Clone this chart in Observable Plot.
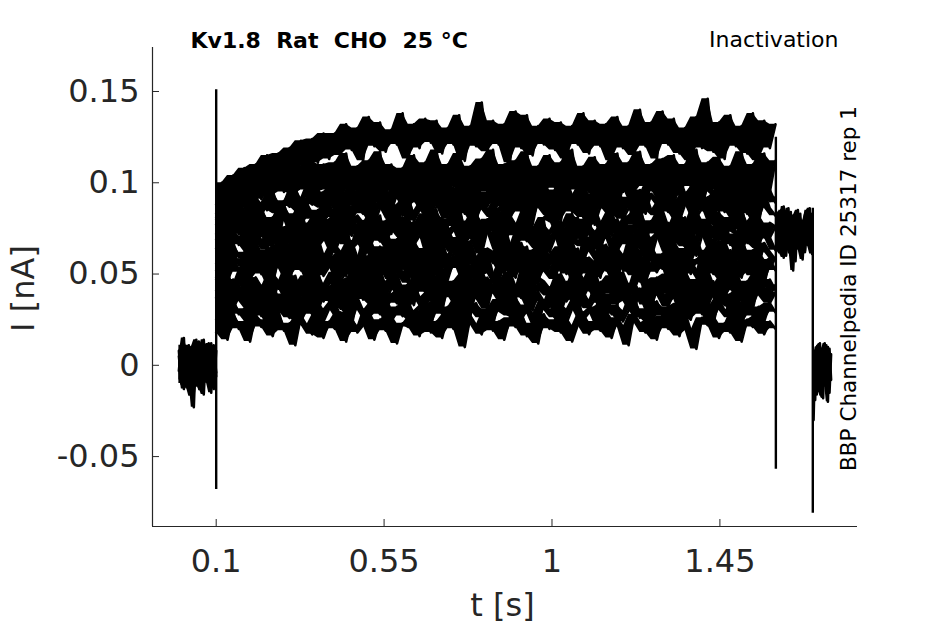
<!DOCTYPE html>
<html><head><meta charset="utf-8">
<script src="https://cdn.jsdelivr.net/npm/d3@7"></script>
<script src="https://cdn.jsdelivr.net/npm/@observablehq/plot@0.6"></script>
<style>
html,body{margin:0;padding:0;background:#fff;}
svg text{white-space:pre;}
</style></head><body><div id="chart"></div>
<script>
// ---- labels ----
const title = "Kv1.8  Rat  CHO  25 °C";
const protocolLabel = "Inactivation";
const sourceLabel = "BBP Channelpedia ID 25317 rep 1";
const xLabel = "t [s]";
const yLabel = "I [nA]";
const xTicks = [0.1, 0.55, 1, 1.45];
const yTicks = [-0.05, 0, 0.05, 0.1, 0.15];
const xDomain = [-0.0707, 1.8188];
const yDomain = [-0.0883, 0.1741];

// ---- segment timing (s) ----
const baseSpan = [0, 0.1];
const pulseSpan = [0.1, 1.599];
const testSpan = [1.602, 1.697];
const tailSpan = [1.701, 1.748];

// ---- current values (pA) ----
const baseline1 = [8,-10,12,-6,11,-12,9,-8,13,-14,10,-7,12,-11,9,-4];
const baseline2 = [-3,11,-13,7,-8,10,-23,14,-12,6,-16,11,-8,12,-13,8];
const baseline3 = [5,-8,15,-12,3,-17,10,-5,8,-13,14,-9,6,-15,11,-6];

const sweep1 = [88,100,92,104,95,108,97,110,99,115,101,116,104,119,106,123,109,124,111,127,
113,127,115,132,118,130,112,136,120,133,117,129,121,138,113,132,119,135,122,134,
116,130,121,137,112,131,120,144,117,134,121,132,111,139,119,137,115,131,121,135,
118,133,113,131,121,138,116,134,120,132,112,136,119,131,115,140,120,133,113,139,
121,135,116,130,112,136,119,146,117,133,113,137,120,131,116,138,112,134,119,132];
const sweep2 = [80,93,84,96,87,99,89,101,91,103,93,105,95,108,94,109,96,112,95,110,
96,111,94,116,97,109,95,112,98,117,94,110,96,108,99,115,93,111,97,118,
95,110,98,116,94,109,97,113,95,118,96,110,93,112,98,117,94,109,96,115,
97,111,94,118,96,109,98,114,93,110,97,116,95,111,94,117,98,110,95,113,
96,115,93,110,98,118,95,111,97,114,94,109,96,117,93,110,98,116,95,112];
const sweepA = [81,88,78,90,84,86,92,80,89,85,94,83,90,87,96,84,91,88,97,86,
93,89,84,95,90,87,98,85,92,89,96,84,94,91,86,97,89,93,85,95,
90,86,97,88,93,84,99,91,87,95,89,92,83,98,90,86,94,88,96,85,
92,97,87,91,84,99,89,94,86,93,90,98,85,92,88,96,83,94,91,87,
97,89,85,93,90,98,86,92,88,95,84,91,97,87,93,89,85,96,90,92];
const sweep3 = [83,76,88,80,91,79,85,93,82,89,96,84,90,87,98,86,92,100,88,95,
90,99,87,96,101,89,94,98,86,102,93,88,97,91,103,90,96,85,100,94,
89,101,96,86,99,92,104,88,95,91,102,87,97,93,100,85,98,94,103,90,
96,88,101,93,86,99,95,104,89,92,100,87,97,102,90,94,86,101,96,91,
99,87,103,94,90,98,85,101,95,92,104,88,97,91,100,86,102,93,96,89];
const sweep4 = [77,70,82,73,80,75,84,72,86,78,81,74,88,79,83,76,90,80,85,78,
89,81,84,92,79,87,83,91,78,86,93,80,88,82,94,79,85,90,81,87,
92,80,86,95,83,89,78,93,85,81,91,87,79,94,84,88,77,92,86,82,
90,79,95,84,88,81,93,77,87,91,83,96,80,86,89,78,94,85,82,90,
84,93,79,88,95,81,86,91,78,94,85,89,80,92,83,87,77,95,86,82];
const sweep5 = [72,81,69,84,75,78,70,86,73,80,76,68,83,79,71,85,74,77,82,70,
80,73,87,76,71,82,78,69,84,75,79,72,86,74,81,70,77,83,73,85,
69,80,76,88,72,78,84,71,79,74,86,70,82,77,73,85,75,68,81,79,
87,72,76,83,70,80,74,86,78,71,84,75,69,82,77,88,73,79,72,85,
76,70,83,78,74,86,71,80,77,84,69,81,75,87,72,79,83,70,78,76];
const sweepB = [69,77,66,79,72,75,68,80,71,76,65,78,74,70,81,67,76,72,79,69,
75,70,78,66,80,73,69,77,71,82,67,74,78,70,76,65,79,72,75,68,
81,70,74,77,66,79,72,69,80,73,76,67,78,71,75,82,68,73,77,70,
74,79,67,72,81,69,76,73,66,78,71,80,74,68,77,72,65,79,75,70,
78,73,69,81,67,75,72,79,70,76,68,80,73,71,77,66,79,74,70,76];
const sweep6 = [64,73,60,75,66,71,62,77,68,63,74,70,59,76,67,72,61,78,65,69,
73,62,70,76,64,67,79,61,72,68,75,63,69,58,77,66,71,74,60,73,
67,76,62,70,65,78,69,61,74,72,63,77,66,59,75,68,71,64,79,62,
70,73,60,76,67,65,78,71,63,74,69,61,77,66,72,64,75,59,70,73,
62,78,68,65,74,60,71,76,63,69,79,66,72,61,75,67,64,77,70,63];
const sweep7 = [56,65,52,67,59,62,54,69,57,63,51,66,61,55,68,58,64,53,70,60,
57,66,62,50,68,59,55,71,63,57,65,52,67,60,54,69,58,64,56,62,
70,53,61,66,55,68,59,51,64,62,57,72,54,60,67,58,63,52,69,56,
61,65,53,68,59,55,70,62,57,66,51,64,60,58,71,54,63,67,56,61,
52,69,58,64,55,70,61,57,66,53,68,60,56,71,59,63,54,67,62,58];
const sweepC = [52,60,49,62,55,58,50,63,54,59,48,61,57,51,64,53,59,55,62,50,
58,54,61,49,63,56,52,60,55,65,50,57,61,53,59,48,62,55,58,51,
64,53,57,60,49,62,55,52,63,56,59,50,61,54,58,65,51,56,60,53,
57,62,50,55,64,52,59,56,49,61,54,63,57,51,60,55,48,62,58,53,
61,56,52,64,50,58,55,62,53,59,51,63,56,54,60,49,62,57,53,59];
const sweep8 = [48,57,44,60,51,54,46,59,50,55,43,61,53,47,58,52,56,45,62,49,
54,58,46,51,60,48,55,42,59,53,57,47,61,50,45,58,52,56,44,63,
51,47,57,53,60,46,55,49,62,50,44,58,54,48,61,52,56,45,59,51,
47,60,53,55,43,58,50,57,48,62,52,46,59,54,49,61,45,56,51,58,
53,44,60,49,57,52,47,63,50,55,46,59,53,48,61,51,56,44,58,52];
const sweep9 = [47,38,51,41,45,53,39,48,43,36,50,46,41,54,38,44,49,40,52,37,
45,51,42,47,36,53,40,48,44,55,38,46,50,41,43,37,52,45,39,49,
54,42,46,36,50,44,39,53,41,47,45,38,51,43,37,55,40,48,46,42,
35,50,44,39,52,47,41,54,38,45,49,36,51,43,40,53,46,38,48,42,
50,37,45,53,41,47,39,52,44,36,49,42,54,40,46,38,51,43,47,41];
const sweepD = [37,45,34,47,40,43,35,48,39,44,33,46,42,36,49,38,44,40,47,35,
43,39,46,34,48,41,37,45,40,50,35,42,46,38,44,33,47,40,43,36,
49,38,42,45,34,47,40,37,48,41,44,35,46,39,43,50,36,41,45,38,
42,47,35,40,49,37,44,41,34,46,39,48,42,36,45,40,33,47,43,38,
46,41,37,49,35,43,40,47,38,44,36,48,41,39,45,34,47,42,38,44];
const sweep10 = [41,33,38,29,44,35,31,42,37,28,45,34,39,30,43,36,32,46,29,40,
35,43,31,38,27,44,36,41,33,47,30,39,34,42,28,45,37,32,40,35,
29,46,38,33,41,27,43,36,31,44,39,34,28,42,37,45,30,40,35,32,
43,29,38,46,34,41,31,36,44,28,39,33,47,35,30,42,37,29,45,38,
32,40,36,27,44,34,41,30,46,37,33,39,28,43,35,31,45,38,34,40];
const sweep11 = [25,34,22,36,28,31,24,37,27,32,21,35,30,26,38,23,33,28,36,24,
31,35,26,29,22,37,30,25,34,28,39,23,32,27,36,24,30,33,21,35,
28,32,25,37,23,30,34,26,31,22,36,29,27,38,24,33,28,21,35,30,
26,34,23,31,37,25,29,32,22,36,28,33,24,30,38,26,31,23,35,27,
32,21,34,29,25,37,28,31,23,36,30,26,33,22,35,27,32,24,34,29];
const sweep12 = [18,27,14,29,20,24,13,28,21,25,16,30,19,23,11,27,22,17,28,15,
24,20,29,13,26,18,22,31,14,25,19,28,12,23,21,27,16,30,18,24,
15,28,20,25,10,27,22,17,29,19,24,14,26,21,30,16,23,12,28,20,
25,18,27,13,22,29,17,24,19,31,15,26,21,11,28,23,18,25,14,27,
20,24,16,29,19,9,26,22,28,15,23,18,30,13,25,21,27,17,24,20];

const test1 = [72,84,63,80,66,86,61,82,68,85,64,79,62,84,70,83];
const test2 = [78,62,85,59,81,67,84,52,80,64,83,58,79,66,86,61];
const test3 = [66,79,70,87,60,76,73,81,57,83,69,77,63,85,67,74];

const tail1 = [-30,8,-16,11,-12,9,-18,12,-9,10,-15,6];
const tail2 = [4,-19,10,-14,12,-17,7,-11,11,-20,9,-8];

// capacitive transients at step edges (nA)
const transientT = [0.1, 1.6, 1.699];
const transientLo = [-0.068, -0.057, -0.081];
const transientHi = [0.151, 0.125, 0.086];

// ---- build table ----
const rows = [];
function addTrace(id, span, values) {
  const n = values.length, dt = (span[1] - span[0]) / (n - 1);
  values.forEach((v, i) => rows.push({id, t: span[0] + i * dt, I: v / 1000}));
}
[baseline1, baseline2, baseline3].forEach((v, k) => addTrace("b" + k, baseSpan, v));
[sweep1, sweep2, sweepA, sweep3, sweep4, sweep5, sweepB, sweep6, sweep7, sweepC, sweep8, sweep9, sweepD, sweep10, sweep11, sweep12]
  .forEach((v, k) => addTrace("s" + k, pulseSpan, v));
[test1, test2, test3].forEach((v, k) => addTrace("p" + k, testSpan, v));
[tail1, tail2].forEach((v, k) => addTrace("q" + k, tailSpan, v));
const transients = transientT.map((t, i) => ({t, lo: transientLo[i], hi: transientHi[i]}));

const fmt = d => String(d);
const axisColor = "#262626";

const chart = Plot.plot({
  width: 945,
  height: 624,
  marginLeft: 152,
  marginRight: 88,
  marginTop: 47,
  marginBottom: 98,
  style: {fontFamily: "DejaVu Sans", fontSize: "32px", color: axisColor, background: "#fff"},
  x: {domain: xDomain},
  y: {domain: yDomain},
  marks: [
    // dense-trace envelope (running min/max of neighbouring samples)
    Plot.areaY(rows, Plot.map(
      {y1: Plot.window({k: 2, reduce: "min"}), y2: Plot.window({k: 2, reduce: "max"})},
      {x: "t", y1: "I", y2: "I", z: "id", fill: "#000"})),
    Plot.line(rows, {x: "t", y: "I", z: "id", stroke: "#000", strokeWidth: 2.6, strokeLinejoin: "round"}),
    Plot.ruleX(transients, {x: "t", y1: "lo", y2: "hi", stroke: "#000", strokeWidth: 2.4}),
    Plot.ruleX([xDomain[0]], {stroke: axisColor, strokeWidth: 1.2}),
    Plot.ruleY([yDomain[0]], {stroke: axisColor, strokeWidth: 1.2}),
    Plot.axisX({ticks: xTicks, tickFormat: fmt, tickSize: -7, tickPadding: 30, label: null, fontSize: 32, color: axisColor}),
    Plot.axisY({ticks: yTicks, tickFormat: fmt, tickSize: -7, tickPadding: 20, label: null, fontSize: 32, color: axisColor}),
    Plot.text([title], {frameAnchor: "top-left", dx: 38, dy: -6.7, textAnchor: "start", lineAnchor: "middle", fontSize: 22, fontWeight: "bold", fill: "#000"}),
    Plot.text([protocolLabel], {frameAnchor: "top-right", dx: -19, dy: -7.3, textAnchor: "end", lineAnchor: "middle", fontSize: 22, fill: "#000"}),
    Plot.text([sourceLabel], {frameAnchor: "right", rotate: -90, dx: -8, dy: 1.5, textAnchor: "middle", lineAnchor: "middle", fontSize: 21.5, fill: "#000"}),
    Plot.text([yLabel], {frameAnchor: "left", rotate: -90, dx: -129, dy: 1.5, textAnchor: "middle", lineAnchor: "middle", fontSize: 32, fill: axisColor}),
    Plot.text([xLabel], {frameAnchor: "bottom", dx: -2.5, dy: 79.5, textAnchor: "middle", lineAnchor: "middle", fontSize: 32, fill: axisColor})
  ]
});
document.getElementById("chart").append(chart);
</script></body></html>
